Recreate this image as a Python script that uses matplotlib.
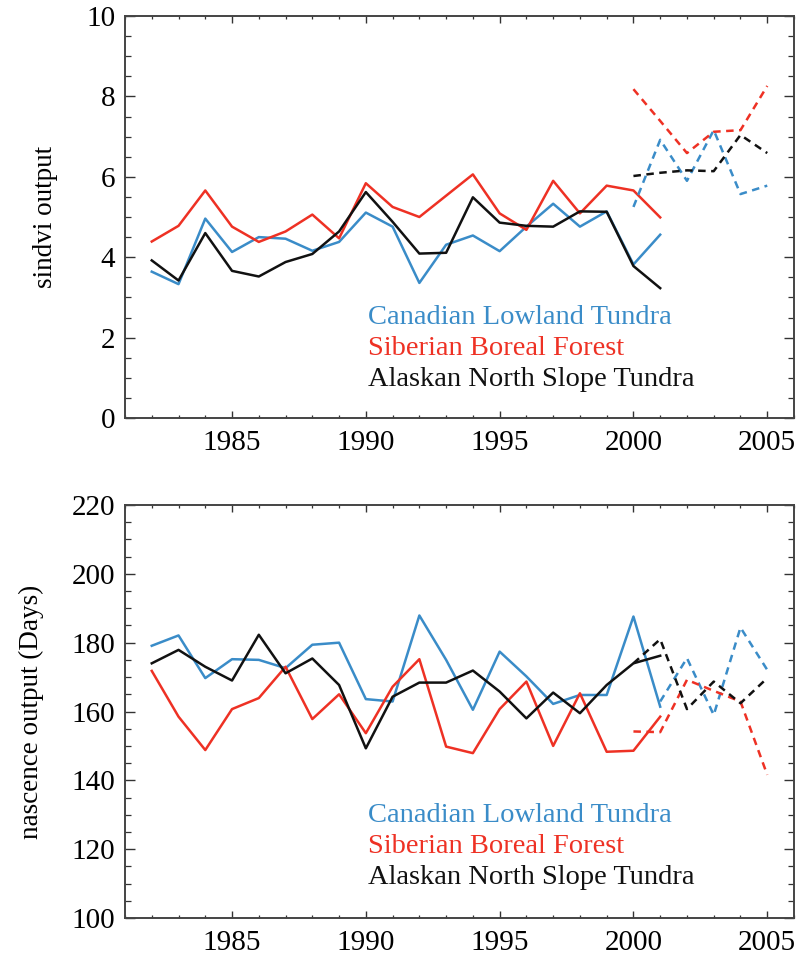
import matplotlib

matplotlib.use("Agg")
import matplotlib.pyplot as plt  # noqa: E402
from matplotlib.ticker import MultipleLocator  # noqa: E402

plt.rcParams["font.family"] = ["Liberation Serif", "DejaVu Serif"]

# --- data ---
years = list(range(1982, 2002))
years_fc = list(range(2000, 2006))
years_fc_can = list(range(2001, 2006))

sindvi_can = [3.64, 3.33, 4.96, 4.13, 4.50, 4.46, 4.16, 4.38, 5.11, 4.76,
              3.36, 4.31, 4.54, 4.15, 4.76, 5.33, 4.76, 5.14, 3.82, 4.56]
sindvi_sib = [4.39, 4.78, 5.66, 4.76, 4.38, 4.64, 5.06, 4.47, 5.84, 5.25,
              5.00, 5.53, 6.06, 5.09, 4.68, 5.90, 5.09, 5.78, 5.66, 4.99]
sindvi_ala = [3.92, 3.42, 4.60, 3.66, 3.52, 3.88, 4.08, 4.64, 5.62, 4.88,
              4.09, 4.11, 5.49, 4.86, 4.78, 4.76, 5.14, 5.13, 3.78, 3.23]
sindvi_can_fc = [5.25, 6.92, 5.90, 7.16, 5.57, 5.78]
sindvi_sib_fc = [8.18, 7.39, 6.59, 7.12, 7.16, 8.26]
sindvi_ala_fc = [6.02, 6.10, 6.16, 6.14, 7.04, 6.59]

nasc_can = [179.1, 182.1, 169.7, 175.2, 175.0, 172.6, 179.4, 180.0, 163.6, 162.9,
            187.9, 175.0, 160.5, 177.4, 170.2, 162.2, 164.8, 164.8, 187.6, 161.4]
nasc_sib = [171.8, 158.5, 148.8, 160.7, 163.9, 173.0, 157.8, 165.0, 153.7, 167.2,
            175.2, 149.8, 147.9, 160.7, 168.7, 150.0, 165.3, 148.3, 148.6, 158.5]
nasc_ala = [174.0, 177.9, 173.0, 169.0, 182.3, 171.1, 175.4, 167.7, 149.3, 164.3,
            168.4, 168.4, 171.9, 165.8, 158.0, 165.5, 159.5, 167.7, 174.0, 176.2]
nasc_can_fc = [162.9, 175.5, 159.0, 184.4, 172.1]
nasc_sib_fc = [154.2, 154.0, 169.2, 166.0, 162.9, 141.6]
nasc_ala_fc = [174.0, 181.0, 160.7, 168.7, 162.4, 169.7]

names = ["Canadian Lowland Tundra", "Siberian Boreal Forest", "Alaskan North Slope Tundra"]
colors = ["#3a8cc8", "#ee3124", "#111111"]

LW = 1.8
DASH = (3.0, 2.2)


def style_axes(ax, ylim, ymajor, yminor, ylabel):
    ax.set_xlim(1981, 2006)
    ax.set_ylim(*ylim)
    ax.xaxis.set_major_locator(MultipleLocator(5))
    ax.xaxis.set_minor_locator(MultipleLocator(1))
    ax.yaxis.set_major_locator(MultipleLocator(ymajor))
    ax.yaxis.set_minor_locator(MultipleLocator(yminor))
    ax.tick_params(which="both", direction="in", top=True, right=True,
                   labelsize=21, colors="#333333", labelcolor="black")
    ax.tick_params(axis="x", which="major", length=5, width=1.0, pad=9)
    ax.tick_params(axis="x", which="minor", length=2.5, width=0.9)
    ax.tick_params(axis="y", which="major", length=7, width=1.0, pad=7)
    ax.tick_params(axis="y", which="minor", length=4, width=0.9)
    for s in ax.spines.values():
        s.set_linewidth(1.4)
        s.set_color("#444444")
    ax.set_ylabel(ylabel, fontsize=19.5, labelpad=20)


def add_names(ax, ys):
    # one line per region, coloured like its curve
    for name, c, y in zip(names, colors, ys):
        ax.text(0.363, y, name, color=c, fontsize=20.5, va="center", ha="left",
                transform=ax.transAxes)


fig = plt.figure(figsize=(8.01, 9.65), dpi=100)
ax1 = fig.add_axes([125 / 801, 1 - 418 / 965, 669 / 801, 402 / 965])
ax2 = fig.add_axes([125 / 801, 1 - 918 / 965, 669 / 801, 413 / 965])

# top: sindvi
for vals, c in zip([sindvi_can, sindvi_sib, sindvi_ala], colors):
    ax1.plot(years, vals, color=c, linewidth=LW)
for yrs, vals, c in zip([years_fc, years_fc, years_fc],
                        [sindvi_can_fc, sindvi_sib_fc, sindvi_ala_fc], colors):
    ax1.plot(yrs, vals, color=c, linewidth=LW, linestyle=(0, DASH))
style_axes(ax1, (0, 10), 2, 0.5, "sindvi output")
add_names(ax1, [0.251, 0.174, 0.097])

# bottom: nascence
for vals, c in zip([nasc_can, nasc_sib, nasc_ala], colors):
    ax2.plot(years, vals, color=c, linewidth=LW)
for yrs, vals, c in zip([years_fc_can, years_fc, years_fc],
                        [nasc_can_fc, nasc_sib_fc, nasc_ala_fc], colors):
    ax2.plot(yrs, vals, color=c, linewidth=LW, linestyle=(0, DASH))
style_axes(ax2, (100, 220), 20, 5, "nascence output (Days)")
add_names(ax2, [0.249, 0.174, 0.099])

fig.savefig("out.png", dpi=100)
plt.close(fig)
